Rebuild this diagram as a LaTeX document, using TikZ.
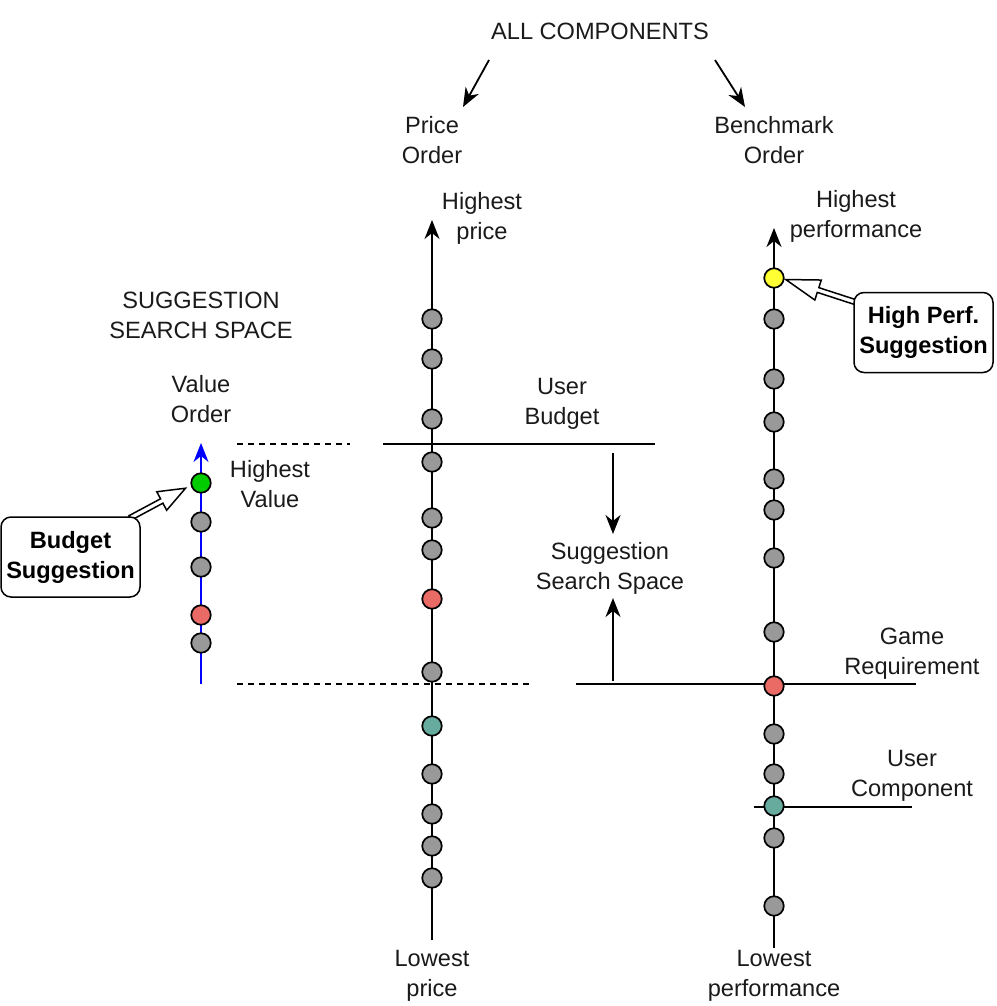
\documentclass[tikz,border=0pt]{standalone}
\usepackage{fontspec}
\setmainfont{Liberation Sans}
\usetikzlibrary{arrows.meta}
\definecolor{cgrey}{HTML}{999999}
\definecolor{cred}{HTML}{EA6B66}
\definecolor{cgreen}{HTML}{00CC00}
\definecolor{cyellow}{HTML}{FFFF33}
\definecolor{cteal}{HTML}{67AB9F}
\definecolor{ctext}{HTML}{1A1A1A}
\tikzset{
  dot/.style={circle, draw=black, line width=1.7pt, minimum size=19.5pt, inner sep=0pt, fill=cgrey},
  lbl/.style={align=center, font=\fontsize{23.6}{30}\selectfont, text=ctext, inner sep=0pt},
  callbox/.style={draw=black, line width=1.5pt, rounded corners=10pt, fill=white, align=center,
     font=\fontsize{23.6}{30}\selectfont\bfseries, minimum width=139pt, minimum height=80pt, inner sep=0pt},
  axis/.style={line width=1.8pt, -{Stealth[length=19pt,width=15pt,inset=6pt]}},
  arr/.style={line width=1.8pt, -{Stealth[length=19pt,width=15pt,inset=6pt]}},
  hline/.style={line width=1.8pt},
  dline/.style={line width=1.8pt, dash pattern=on 6pt off 5pt},
  blockarr/.style={draw=black, line width=1.5pt, fill=white, line join=miter}
}
\begin{document}
\begin{tikzpicture}[x=1pt,y=-1pt]
\useasboundingbox (0,0) rectangle (996,1006);

% top labels
\node[lbl] (all) at (600,31) {ALL COMPONENTS};
\node[lbl] (porder) at (432,140) {Price\\Order};
\node[lbl] (border) at (774,140) {Benchmark\\Order};
\coordinate (a1s) at (489,60); \coordinate (a1e) at (463,107);
\coordinate (a2s) at (715,60); \coordinate (a2e) at (745,107);
\draw[arr] (a1s) -- (a1e);
\draw[arr] (a2s) -- (a2e);

% horizontal lines
\coordinate (ub1) at (383,444); \coordinate (ub2) at (655,444);
\draw[hline] (ub1) -- (ub2);
\coordinate (d1a) at (237,444); \coordinate (d1b) at (350,444);
\draw[dline] (d1a) -- (d1b);
\coordinate (d2a) at (237,684); \coordinate (d2b) at (530,684);
\draw[dline] (d2a) -- (d2b);
\coordinate (gr1) at (576,684); \coordinate (gr2) at (916,684);
\draw[hline] (gr1) -- (gr2);
\coordinate (uc1) at (754,807); \coordinate (uc2) at (912,807);
\draw[hline] (uc1) -- (uc2);

% search space arrows
\coordinate (sd1) at (613,453); \coordinate (sd2) at (613,534);
\draw[arr] (sd1) -- (sd2);
\coordinate (su1) at (613,681); \coordinate (su2) at (613,598);
\draw[arr] (su1) -- (su2);

% price axis
\coordinate (pb) at (432,940); \coordinate (pt) at (432,220);
\draw[axis] (pb) -- (pt);
\foreach \y [count=\i] in {319,359,419,462,518,550,672,774,814,846,878}
  \node[dot] (p\i) at (432,\y) {};
\node[dot, fill=cred] (pred) at (432,599) {};
\node[dot, fill=cteal] (pteal) at (432,726) {};

% benchmark axis
\coordinate (bb) at (774,948); \coordinate (bt) at (774,228);
\draw[axis] (bb) -- (bt);
\foreach \y [count=\i] in {319,379,422,479,510,558,632,734,774,838,906}
  \node[dot] (b\i) at (774,\y) {};
\node[dot, fill=cyellow] (byel) at (774,278) {};
\node[dot, fill=cred] (bred) at (774,686) {};
\node[dot, fill=cteal] (bteal) at (774,806) {};

% value axis
\coordinate (vb) at (201,684); \coordinate (vt) at (201,443);
\draw[axis, draw=blue, color=blue] (vb) -- (vt);
\node[dot, fill=cgreen] (vgreen) at (201,483) {};
\node[dot] (v1) at (201,522) {};
\node[dot] (v2) at (201,567) {};
\node[dot, fill=cred] (vred) at (201,615) {};
\node[dot] (v3) at (201,643) {};

% labels
\node[lbl] (hp) at (482,218) {Highest\\price};
\node[lbl] (hperf) at (856,216) {Highest\\performance};
\node[lbl] (sss) at (201,315) {SUGGESTION\\SEARCH SPACE};
\node[lbl] (vorder) at (201,399) {Value\\Order};
\node[lbl] (hv) at (270,484) {Highest\\Value};
\node[lbl] (ubud) at (562,404) {User\\Budget};
\node[lbl] (ssp) at (610,568) {Suggestion\\Search Space};
\node[lbl] (greq) at (912,654) {Game\\Requirement};
\node[lbl] (ucomp) at (912,776) {User\\Component};
\node[lbl] (lp) at (432,976) {Lowest\\price};
\node[lbl] (lperf) at (774,976) {Lowest\\performance};

% callout arrows
\begin{scope}[shift={(130,518)}, rotate=28.2]
  \draw[blockarr] (0,-2.5) -- (36,-2.5) -- (36,-10.5) -- (63,0) -- (36,10.5) -- (36,2.5) -- (0,2.5) -- cycle;
\end{scope}
\begin{scope}[shift={(858,303)}, rotate=162]
  \draw[blockarr] (0,-2.5) -- (42,-2.5) -- (42,-10.5) -- (76,0) -- (42,10.5) -- (42,2.5) -- (0,2.5) -- cycle;
\end{scope}

% callout boxes
\node[callbox] (bsug) at (70.5,557) {Budget\\Suggestion};
\node[callbox] (hsug) at (923.5,332.5) {High Perf.\\Suggestion};
\end{tikzpicture}
\end{document}
